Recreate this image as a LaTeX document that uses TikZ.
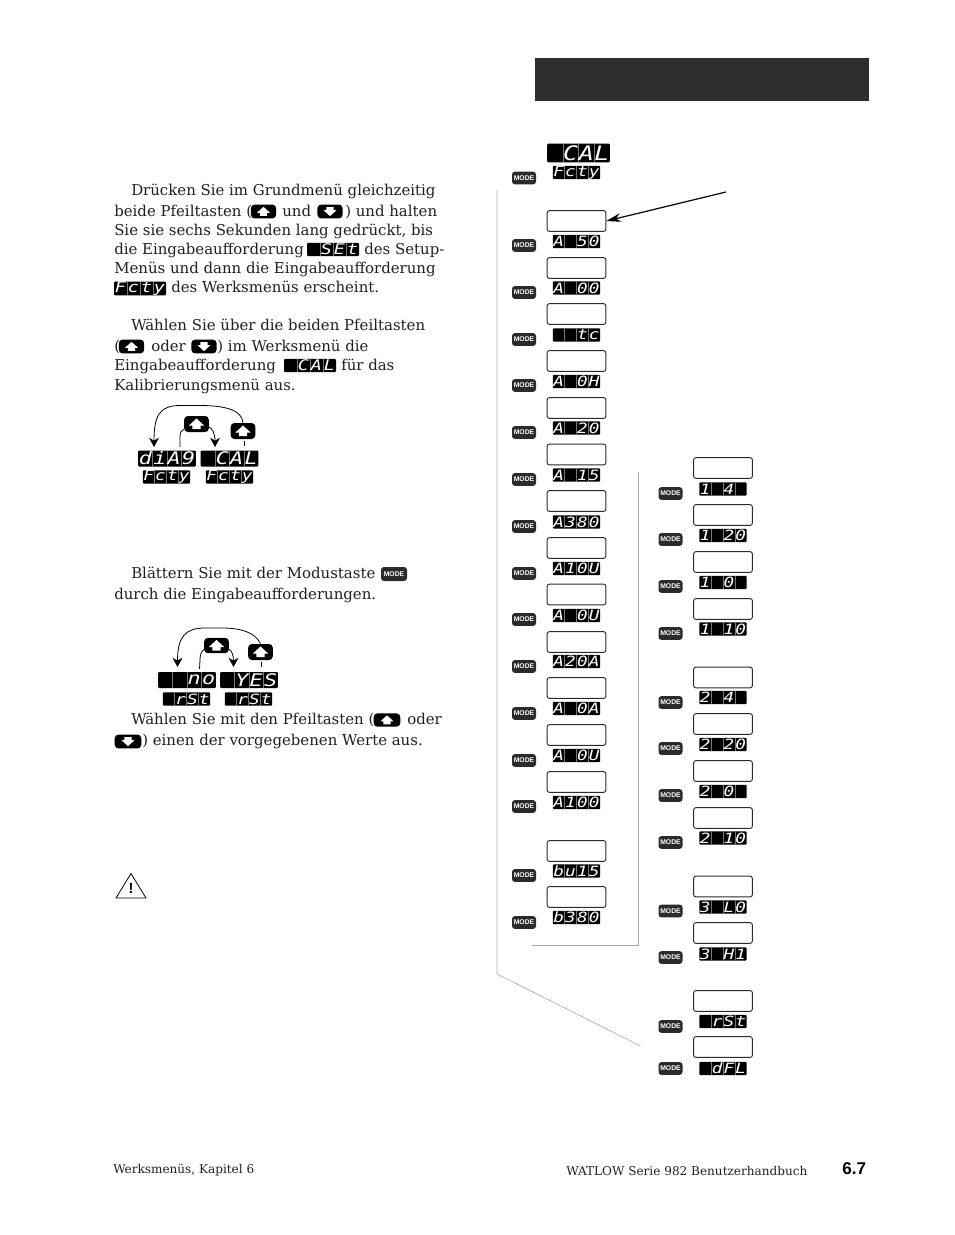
\documentclass[tikz,border=0pt]{standalone}
\usepackage{fontspec}
\usetikzlibrary{calc,arrows.meta}
\setmainfont{DejaVu Serif}
\newfontfamily\bodyf{DejaVu Serif}
\newfontfamily\segf[FakeStretch=1.25]{DejaVu Sans Mono}
\newfontfamily\sansf{Liberation Sans}
\definecolor{ink}{HTML}{231F20}
\definecolor{keyc}{HTML}{2B2B2B}
\definecolor{barc}{HTML}{2E2E2E}
\definecolor{railc}{HTML}{E2E2E2}
\definecolor{thinc}{HTML}{A8A8A8}
\definecolor{sepc}{HTML}{777777}
\newlength\cellw
\newcommand\dc[1]{\makebox[\cellw][c]{#1}}
\newcommand\cells[4]{\dc{#1}\dc{#2}\dc{#3}\dc{#4}}
\tikzset{
  x=0.75pt,y=-0.75pt,
  body/.style={anchor=base west,inner sep=0pt,text=ink,font=\bodyf\fontsize{11.2pt}{14pt}\selectfont},
  foot/.style={anchor=base west,inner sep=0pt,text=ink,font=\bodyf\fontsize{9.05pt}{12pt}\selectfont},
  dispsep/.style={path picture={
     \foreach \f in {0.25,0.5,0.75}
       \draw[sepc,line width=0.3pt]
         ($(path picture bounding box.south west)!\f!(path picture bounding box.south east)$) --
         ($(path picture bounding box.north west)!\f!(path picture bounding box.north east)$);}},
  disp/.style={fill=black,text=white,rounded corners=0.8pt,inner sep=0pt,dispsep},
  msgbox/.style={draw=keyc,fill=white,line width=0.7pt,rounded corners=1.6pt,minimum width=44pt,minimum height=15.5pt,inner sep=0pt},
  modekey/.style={fill=keyc,text=white,rounded corners=2.2pt,minimum width=18pt,minimum height=9.6pt,inner sep=0pt,font=\sansf\bfseries\fontsize{5.1pt}{5pt}\selectfont},
  arrowkey/.style={fill=black,rounded corners=2.8pt,inner sep=0pt},
  conn/.style={draw=black,line width=0.6pt},
  connarr/.style={conn,-{Stealth[length=7pt,width=7.5pt]}},
}
\newcommand\sd[7]{\setlength\cellw{8.9pt}%
  \node[disp,minimum width=35.6pt,minimum height=10pt,font=\segf\itshape\fontsize{10.6pt}{10pt}\selectfont] (#1) at (#2,#3) {\cells{#4}{#5}{#6}{#7}};}
% large display
\newcommand\ld[7]{\setlength\cellw{10.8pt}%
  \node[disp,minimum width=43.4pt,minimum height=12pt,font=\segf\itshape\fontsize{13pt}{12pt}\selectfont] (#1) at (#2,#3) {\cells{#4}{#5}{#6}{#7}};}
% head display
\newcommand\hd[7]{\setlength\cellw{11.75pt}%
  \node[disp,minimum width=47pt,minimum height=14pt,font=\segf\itshape\fontsize{15pt}{12pt}\selectfont] (#1) at (#2,#3) {\cells{#4}{#5}{#6}{#7}};}
% inline display, in the text
\newcommand\id[7]{\setlength\cellw{9.75pt}%
  \node[disp,minimum width=39pt,minimum height=10pt,font=\segf\itshape\fontsize{11pt}{10pt}\selectfont] (#1) at (#2,#3) {\cells{#4}{#5}{#6}{#7}};}
% menu item: name, box y, display y, key y, cells
\newcommand\itemL[8]{%
  \node[msgbox] (#1box) at (576.5,#2) {};
  \sd{#1disp}{576.5}{#3}{#5}{#6}{#7}{#8}
  \node[modekey] (#1key) at (524,#4) {MODE};}
\newcommand\itemR[8]{%
  \node[msgbox] (#1box) at (723,#2) {};
  \sd{#1disp}{723}{#3}{#5}{#6}{#7}{#8}
  \node[modekey] (#1key) at (670.5,#4) {MODE};}
% arrow keys: name, cx, cy, width(pt), height(pt), scale
\newcommand\keyup[6]{%
  \node[arrowkey,minimum width=#4pt,minimum height=#5pt] (#1) at (#2,#3) {};
  \fill[white] ([shift={(0,{-5.5*#6})}]#1.center) -- ++({7.6*#6},{7*#6}) -- ++({-3.4*#6},0) -- ++(0,{3.6*#6}) -- ++({-8.4*#6},0) -- ++(0,{-3.6*#6}) -- ++({-3.4*#6},0) -- cycle;}
\newcommand\keydn[6]{%
  \node[arrowkey,minimum width=#4pt,minimum height=#5pt] (#1) at (#2,#3) {};
  \fill[white] ([shift={(0,{5.5*#6})}]#1.center) -- ++({7.6*#6},{-7*#6}) -- ++({-3.4*#6},0) -- ++(0,{-3.6*#6}) -- ++({-8.4*#6},0) -- ++(0,{3.6*#6}) -- ++({-3.4*#6},0) -- cycle;}
\begin{document}
\begin{tikzpicture}
\useasboundingbox (0,0) rectangle (954,1235);
\fill[white] (0,0) rectangle (954,1235);
% header bar
\fill[barc] (535,58) rectangle (869,101);
% rails
\draw[railc,line width=1.4pt] (497,190) -- (497,974);
\draw[thinc,line width=0.45pt] (497,974) -- (640.5,1046);
\draw[thinc,line width=0.6pt] (638.5,472) -- (638.5,945) -- (532,945);

% body text
\node[body] (t1) at (131,195) {Drücken Sie im Grundmenü gleichzeitig};
\node[body] (t2a) at (114,216) {beide Pfeiltasten (};
\keyup{ku1}{263.5}{211.5}{19}{10.4}{0.85}
\node[body] (t2b) at (282,216) {und};
\keydn{kd1}{330}{211.5}{19}{10.4}{0.85}
\node[body] (t2c) at (345,216) {) und halten};
\node[body] (t3) at (114,235) {Sie sie sechs Sekunden lang gedrückt, bis};
\node[body] (t4a) at (114,254) {die Eingabeaufforderung};
\id{iSet}{333}{249.5}{}{S}{E}{t}
\node[body] (t4b) at (364,254) {des Setup-};
\node[body] (t5) at (114,273) {Menüs und dann die Eingabeaufforderung};
\id{iFct}{140}{288.5}{F}{c}{t}{y}
\node[body] (t6) at (171,292) {des Werksmenüs erscheint.};

\node[body] (t7) at (131,330) {Wählen Sie über die beiden Pfeiltasten};
\node[body] (t8a) at (114,351) {(};
\keyup{ku2}{131.5}{346.5}{19}{10.4}{0.85}
\node[body] (t8b) at (151,351) {oder};
\keydn{kd2}{204}{346.5}{19}{10.4}{0.85}
\node[body] (t8c) at (217,351) {) im Werksmenü die};
\node[body] (t9a) at (114,370) {Eingabeaufforderung};
\id{iCal}{310}{365.5}{}{C}{A}{L}
\node[body] (t9b) at (341,370) {für das};
\node[body] (t10) at (114,390) {Kalibrierungsmenü aus.};

\node[body] (t11) at (131,578) {Blättern Sie mit der Modustaste};
\node[modekey,minimum width=19.5pt,minimum height=10.5pt] (kmode) at (394,574) {MODE};
\node[body] (t12) at (114,599) {durch die Eingabeaufforderungen.};
\node[body] (t13a) at (131,724) {Wählen Sie mit den Pfeiltasten (};
\keyup{ku3}{387}{720}{20}{10}{0.85}
\node[body] (t13b) at (407,724) {oder};
\keydn{kd3}{128}{741.5}{20}{10.4}{0.85}
\node[body] (t14) at (142,745) {) einen der vorgegebenen Werte aus.};

% first small diagram
\ld{dDiag}{167}{458.5}{d}{i}{A}{9}
\ld{dCal}{229.5}{458.5}{}{C}{A}{L}
\sd{dF1}{166.5}{477}{F}{c}{t}{y}
\sd{dF2}{229.5}{477}{F}{c}{t}{y}
\keyup{bA}{196.5}{424}{18.5}{12}{1}
\keyup{bB}{243}{431}{18.5}{12}{1}
\coordinate (aTip) at (154,447);
\coordinate (bTip) at (215,447);
\coordinate (cFrom) at (180,447);
\coordinate (tickA) at (244.5,441);
\coordinate (tickB) at (244.5,446);
\draw[connarr] (bB.north) .. controls (242,410) and (225,405.5) .. (200,405.5) -- (180,405.5) .. controls (160,405.5) and (154,415) .. (aTip);
\draw[conn] (cFrom) -- (180,437) .. controls (180,433) and (181,430) .. ($(bA.west)+(0,5)$);
\draw[connarr] ($(bA.east)+(0,3)$) .. controls (212,428) and (215,433) .. (bTip);
\draw[conn] (tickA) -- (tickB);

% second small diagram
\ld{dNo}{187}{680}{}{}{n}{o}
\ld{dYes}{249}{680}{}{Y}{E}{S}
\sd{dR1}{186.5}{699}{}{r}{S}{t}
\sd{dR2}{248.5}{699}{}{r}{S}{t}
\keyup{bC}{216.5}{645.5}{18.5}{11.5}{1}
\keyup{bD}{260.5}{652}{18.5}{12}{1}
\coordinate (dTip) at (177.5,667);
\coordinate (eTip) at (233.5,667);
\coordinate (fFrom) at (199.5,669);
\coordinate (tick2A) at (261,662);
\coordinate (tick2B) at (261,667);
\draw[connarr] (bD.north) .. controls (255,632) and (240,628) .. (222,628) -- (205,628) .. controls (185,628) and (177.5,637) .. (dTip);
\draw[conn] (fFrom) -- (200,660) .. controls (200,655) and (201,652) .. ($(bC.west)+(0,4)$);
\draw[connarr] ($(bC.east)+(0,4)$) .. controls (231,650) and (233.5,654) .. (eTip);
\draw[conn] (tick2A) -- (tick2B);

% warning triangle
\draw[black,line width=0.6pt,line join=round] (131,873.5) -- (146,898) -- (116,898) -- cycle;
\node[inner sep=0pt,font=\sansf\bfseries\fontsize{11pt}{12pt}\selectfont] (warn) at (131,888) {!};

% calibration column head
\hd{hCal}{578.5}{153}{}{C}{A}{L}
\sd{hFct}{576.5}{172.5}{F}{c}{t}{y}
\node[modekey] (hKey) at (524,178) {MODE};

% left column
\itemL{La}{221}{241.5}{245.5}{A}{}{5}{0}
\itemL{Lb}{268}{288}{292.5}{A}{}{0}{0}
\itemL{Lc}{314}{335}{339.5}{}{}{t}{c}
\itemL{Ld}{361}{381.5}{385.5}{A}{}{0}{H}
\itemL{Le}{408}{428}{432.5}{A}{}{2}{0}
\itemL{Lf}{454.5}{475}{479.5}{A}{}{1}{5}
\itemL{Lg}{501}{522}{526.5}{A}{3}{8}{0}
\itemL{Lh}{548}{568.5}{573.5}{A}{1}{0}{U}
\itemL{Li}{594.5}{615.5}{619.5}{A}{}{0}{U}
\itemL{Lj}{642}{661.5}{666.5}{A}{2}{0}{A}
\itemL{Lk}{688}{708.5}{713.5}{A}{}{0}{A}
\itemL{Ll}{735}{755.5}{760.5}{A}{}{0}{U}
\itemL{Lm}{782}{802.5}{806.5}{A}{1}{0}{0}
\itemL{Ln}{851}{871}{875.5}{b}{u}{1}{5}
\itemL{Lo}{897}{917.5}{922.5}{b}{3}{8}{0}

% right column
\itemR{Ra}{468}{489}{493.5}{1}{}{4}{}
\itemR{Rb}{515}{535.5}{539.5}{1}{}{2}{0}
\itemR{Rc}{562}{582.5}{586.5}{1}{}{0}{}
\itemR{Rd}{609}{629}{633.5}{1}{}{1}{0}
\itemR{Re}{677.5}{697.5}{702.5}{2}{}{4}{}
\itemR{Rf}{724}{744.5}{748.5}{2}{}{2}{0}
\itemR{Rg}{771}{791.5}{795.5}{2}{}{0}{}
\itemR{Rh}{818}{838}{842.5}{2}{}{1}{0}
\itemR{Ri}{886.5}{907}{911}{3}{}{L}{0}
\itemR{Rj}{933}{954}{957.5}{3}{}{H}{1}
\itemR{Rk}{1001}{1021.5}{1026.5}{}{r}{S}{t}
\itemR{Rl}{1047}{1068.5}{1068.5}{}{d}{F}{L}

% pointer arrow
\coordinate (ptr) at (726,192);
\draw[black,line width=0.9pt,-{Stealth[length=11pt,width=6.5pt]}] (ptr) -- (Labox.east);

% footer
\node[foot] (f1) at (113,1173) {Werksmenüs, Kapitel 6};
\node[foot] (f2) at (566,1175) {WATLOW Serie 982 Benutzerhandbuch};
\node[anchor=base west,inner sep=0pt,font=\sansf\bfseries\fontsize{12.8pt}{13pt}\selectfont] (f3) at (842,1174) {6.7};
\end{tikzpicture}
\end{document}
